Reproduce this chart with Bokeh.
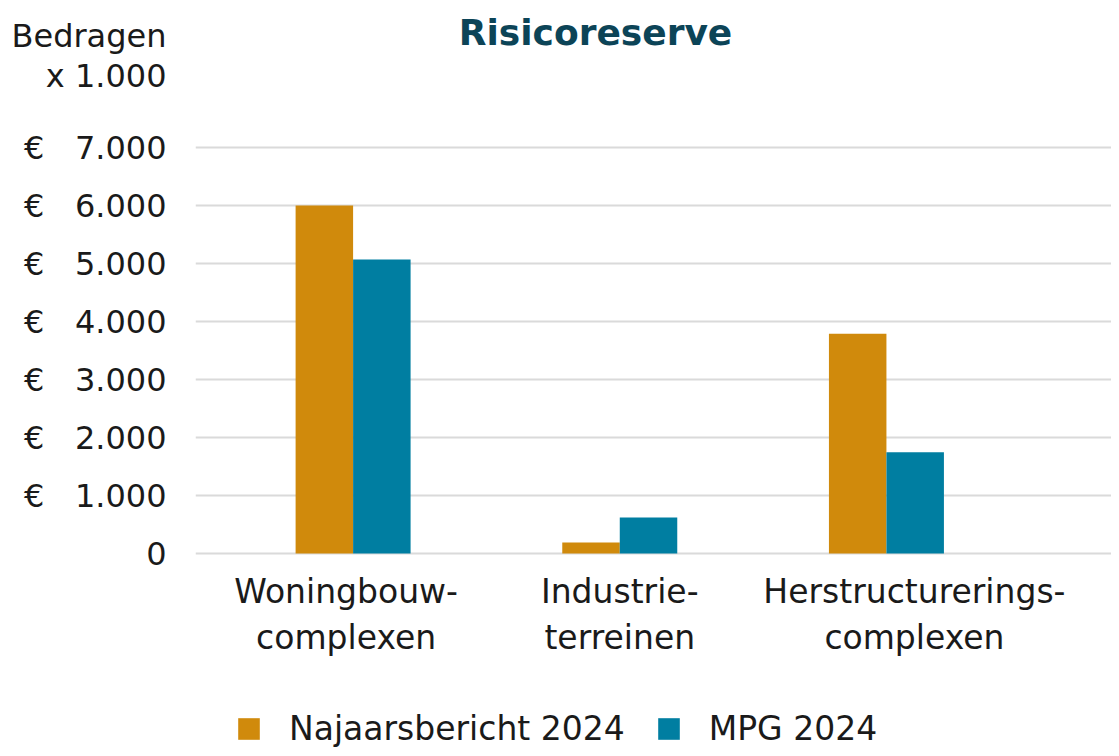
from bokeh.plotting import figure
from bokeh.models import Range1d, FixedTicker, Label, Legend, LegendItem, ColumnDataSource
from bokeh.transform import dodge
from bokeh.core.properties import value
from bokeh.embed import file_html
from bokeh.resources import INLINE

# ---- data ----
categories = ["Woningbouw-\ncomplexen", "Industrie-\nterreinen", "Herstructurerings-\ncomplexen"]
najaarsbericht_2024 = [6000, 190, 3790]
mpg_2024 = [5070, 620, 1745]
series_names = ["Najaarsbericht 2024", "MPG 2024"]
y_ticks = [0, 1000, 2000, 3000, 4000, 5000, 6000, 7000]
y_tick_labels = ["0", "€\u00a0\u00a0\u00a01.000", "€\u00a0\u00a0\u00a02.000", "€\u00a0\u00a0\u00a03.000",
                 "€\u00a0\u00a0\u00a04.000", "€\u00a0\u00a0\u00a05.000", "€\u00a0\u00a0\u00a06.000",
                 "€\u00a0\u00a0\u00a07.000"]
title_text = "Risicoreserve"
unit_lines = ["Bedragen", "x 1.000"]

# ---- style / layout ----
ORANGE = "#D08A0C"
TEAL = "#007EA1"
TITLE_COLOR = "#0C4457"
TEXT = "#1A1A1A"
FONT = "DejaVu Sans"

W, H = 1111, 748
LEFT = 195
PX_PER_UNIT = 0.058          # pixels per unit (x 1.000 euro)
TOP_PX_OF_MAX = 147          # pixel row of the highest gridline
y_end = y_ticks[-1] + TOP_PX_OF_MAX / PX_PER_UNIT
y_start = y_end - H / PX_PER_UNIT
# unit caption lines placed as extra ticks on the value axis (pixel rows 35 and 75)
unit_tick_vals = [y_ticks[-1] + (TOP_PX_OF_MAX - 35) / PX_PER_UNIT,
                  y_ticks[-1] + (TOP_PX_OF_MAX - 75) / PX_PER_UNIT]
cat_label_y = -18 / PX_PER_UNIT   # 18 px below the zero line
cat_label_dx = [-7, 0, 28]        # small horizontal nudges of the category captions (px)

x_pos = list(range(len(categories)))
src = ColumnDataSource(dict(x=x_pos, a=najaarsbericht_2024, b=mpg_2024,
                            lab=categories, ly=[cat_label_y] * len(categories), dx=cat_label_dx))

x_start, x_end = -0.591, 2.844
p = figure(width=W, height=H, output_backend="svg", toolbar_location=None,
           x_range=Range1d(x_start, x_end), y_range=Range1d(y_start, y_end),
           x_axis_location=None,
           min_border_left=LEFT, min_border_right=0, min_border_top=0, min_border_bottom=0)
p.outline_line_color = None
p.background_fill_color = "white"

bw = 0.2156
r1 = p.vbar(x=dodge("x", -bw / 2, range=p.x_range), top="a", width=bw, source=src,
            fill_color=ORANGE, line_color=None)
r2 = p.vbar(x=dodge("x", bw / 2, range=p.x_range), top="b", width=bw, source=src,
            fill_color=TEAL, line_color=None)

# category labels under the groups
p.text(x="x", y="ly", text="lab", x_offset="dx", source=src, text_align="center",
       text_baseline="top", text_font=value(FONT), text_font_size="33px", text_color=TEXT,
       text_line_height=1.2)

# value axis
p.yaxis.ticker = FixedTicker(ticks=y_ticks + unit_tick_vals)
ov = {t: l for t, l in zip(y_ticks, y_tick_labels)}
ov.update({t: l for t, l in zip(unit_tick_vals, unit_lines)})
p.yaxis.major_label_overrides = ov
ax = p.yaxis[0]
ax.axis_line_color = None
ax.major_tick_line_color = None
ax.minor_tick_line_color = None
ax.major_label_text_font = FONT
ax.major_label_text_font_size = "32px"
ax.major_label_text_color = TEXT
ax.major_label_standoff = 23

p.xgrid.visible = False
p.ygrid.ticker = FixedTicker(ticks=y_ticks)
p.ygrid.grid_line_color = "#DADADA"
p.ygrid.grid_line_width = 2

# title
p.add_layout(Label(x=x_start, y=y_end, x_offset=595 - LEFT, y_offset=-32, text=title_text,
                   text_align="center", text_baseline="alphabetic", text_font=FONT,
                   text_font_size="36px", text_font_style="bold", text_color=TITLE_COLOR))

legend = Legend(items=[LegendItem(label=series_names[0], renderers=[r1]),
                       LegendItem(label=series_names[1], renderers=[r2])],
                orientation="horizontal", location=(40, 0))
legend.glyph_width = 27
legend.glyph_height = 27
legend.label_standoff = 27
legend.spacing = 30
legend.padding = 0
legend.margin = 0
legend.border_line_color = None
legend.background_fill_alpha = 0
legend.label_text_font = FONT
legend.label_text_font_size = "33px"
legend.label_text_color = TEXT
p.add_layout(legend)

open("out.html", "w").write(file_html(p, INLINE))
